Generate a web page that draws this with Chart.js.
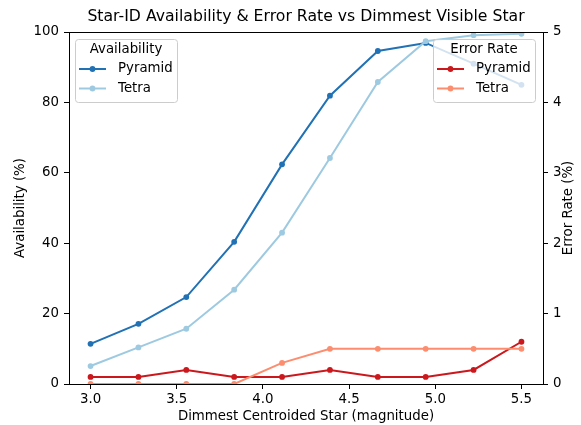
<!DOCTYPE html>
<html>
<head>
<meta charset="utf-8">
<script src="https://cdn.jsdelivr.net/npm/chart.js@4/dist/chart.umd.min.js"></script>
<style>
  html, body { margin: 0; padding: 0; background: #fff; }
  #wrap { width: 581px; height: 425px; }
</style>
</head>
<body>
<div id="wrap"><canvas id="chart" width="581" height="425"></canvas></div>
<script>
// magnitude steps (linspace 3 -> 5.5, 10 points)
let magnitudes = [3.0, 3.2778, 3.5556, 3.8333, 4.1111, 4.3889, 4.6667, 4.9444, 5.2222, 5.5];
let availPyramid = [11.4, 17.1, 24.7, 40.4, 62.4, 81.9, 94.6, 96.9, 91.0, 85.0];
let availTetra = [5.1, 10.4, 15.7, 26.8, 43.0, 64.2, 85.8, 97.4, 99.1, 99.5];
let errPyramid = [0.1, 0.1, 0.2, 0.1, 0.1, 0.2, 0.1, 0.1, 0.2, 0.6];
let errTetra = [0, 0, 0, 0, 0.3, 0.5, 0.5, 0.5, 0.5, 0.5];
let xTicks = [3.0, 3.5, 4.0, 4.5, 5.0, 5.5];

let font = "'DejaVu Sans', sans-serif";
let colPyrA = '#2171b5';
let colTetA = '#9ecae1';
let colPyrE = '#cb181d';
let colTetE = '#fc8d6e';

function pts(ys) {
    return magnitudes.map((x, i) => ({x: x, y: ys[i]}));
}

function lineSet(label, ys, color, axis, order) {
    return {
        label: label,
        data: pts(ys),
        yAxisID: axis,
        borderColor: color,
        backgroundColor: color,
        borderWidth: 2,
        pointRadius: 2.9,
        pointHoverRadius: 2.9,
        pointBorderWidth: 0,
        tension: 0,
        clip: 0,
        order: order
    };
}

function drawLegend(ctx, x, y, w, h, title, items) {
    ctx.save();
    ctx.fillStyle = 'rgba(255,255,255,0.8)';
    ctx.strokeStyle = '#cccccc';
    ctx.lineWidth = 1;
    ctx.beginPath();
    ctx.roundRect(x + 0.5, y + 0.5, w, h, 3);
    ctx.fill();
    ctx.stroke();
    ctx.fillStyle = '#000';
    ctx.font = '13.33px ' + font;
    ctx.textAlign = 'center';
    ctx.textBaseline = 'middle';
    ctx.fillText(title, x + w / 2, y + 10.5);
    ctx.textAlign = 'left';
    items.forEach((it, i) => {
        let cy = y + 30 + i * 19.5;
        ctx.strokeStyle = it.color;
        ctx.lineWidth = 2;
        ctx.beginPath();
        ctx.moveTo(x + 4, cy);
        ctx.lineTo(x + 31, cy);
        ctx.stroke();
        ctx.fillStyle = it.color;
        ctx.beginPath();
        ctx.arc(x + 17.5, cy, 2.9, 0, Math.PI * 2);
        ctx.fill();
        ctx.fillStyle = '#000';
        ctx.fillText(it.label, x + 43, cy);
    });
    ctx.restore();
}

let decorations = {
    id: 'decorations',
    afterDraw(chart) {
        let ctx = chart.ctx;
        let a = chart.chartArea;
        ctx.save();
        // frame on all four sides
        ctx.strokeStyle = '#000';
        ctx.lineWidth = 1;
        ctx.strokeRect(Math.round(a.left) + 0.5, Math.round(a.top) + 0.5,
            Math.round(a.right - a.left), Math.round(a.bottom - a.top));
        // title
        ctx.fillStyle = '#000';
        ctx.font = '15.7px ' + font;
        ctx.textAlign = 'center';
        ctx.textBaseline = 'middle';
        ctx.fillText('Star-ID Availability & Error Rate vs Dimmest Visible Star', (a.left + a.right) / 2, 17);
        // right axis title, reading bottom to top
        ctx.font = '13.33px ' + font;
        ctx.translate(569, (a.top + a.bottom) / 2);
        ctx.rotate(-Math.PI / 2);
        ctx.fillText('Error Rate (%)', 0, 0);
        ctx.restore();

        drawLegend(ctx, 75, 39, 102, 63, 'Availability',
            [{label: 'Pyramid', color: colPyrA}, {label: 'Tetra', color: colTetA}]);
        drawLegend(ctx, 433, 39, 102, 63, 'Error Rate',
            [{label: 'Pyramid', color: colPyrE}, {label: 'Tetra', color: colTetE}]);
    }
};

let tickFont = {family: font, size: 13.33};
let axisGrid = {drawOnChartArea: false, drawTicks: true, tickLength: 5, color: '#000'};

new Chart(document.getElementById('chart').getContext('2d'), {
    type: 'line',
    data: {
        datasets: [
            lineSet('Pyramid', availPyramid, colPyrA, 'yA', 4),
            lineSet('Tetra', availTetra, colTetA, 'yA', 3),
            lineSet('Pyramid', errPyramid, colPyrE, 'yE', 2),
            lineSet('Tetra', errTetra, colTetE, 'yE', 1)
        ]
    },
    plugins: [decorations],
    options: {
        responsive: false,
        animation: false,
        events: [],
        layout: {padding: {top: 32, left: 0, right: 0, bottom: 0}},
        plugins: {
            legend: {display: false},
            title: {display: false},
            tooltip: {enabled: false}
        },
        scales: {
            x: {
                type: 'linear',
                min: 2.875,
                max: 5.625,
                afterBuildTicks(scale) {
                    scale.ticks = xTicks.map(v => ({value: v}));
                },
                afterFit(scale) { scale.height = 41; },
                ticks: {
                    color: '#000',
                    font: tickFont,
                    padding: 3,
                    maxRotation: 0,
                    callback: v => v.toFixed(1)
                },
                grid: axisGrid,
                border: {display: true, color: '#000'},
                title: {display: true, text: 'Dimmest Centroided Star (magnitude)', color: '#000',
                    font: tickFont, padding: {top: 0, bottom: 0}}
            },
            yA: {
                type: 'linear',
                position: 'left',
                min: 0,
                max: 100,
                ticks: {stepSize: 20, color: '#000', font: tickFont, padding: 5},
                afterFit(scale) { scale.width = 69; },
                grid: axisGrid,
                border: {display: true, color: '#000'},
                title: {display: true, text: 'Availability (%)', color: '#000', font: tickFont,
                    padding: {top: 13, bottom: 0}}
            },
            yE: {
                type: 'linear',
                position: 'right',
                min: 0,
                max: 5,
                ticks: {stepSize: 1, color: '#000', font: tickFont, padding: 5},
                afterFit(scale) { scale.width = 38; },
                grid: axisGrid,
                border: {display: true, color: '#000'}
            }
        }
    }
});
</script>
</body>
</html>
